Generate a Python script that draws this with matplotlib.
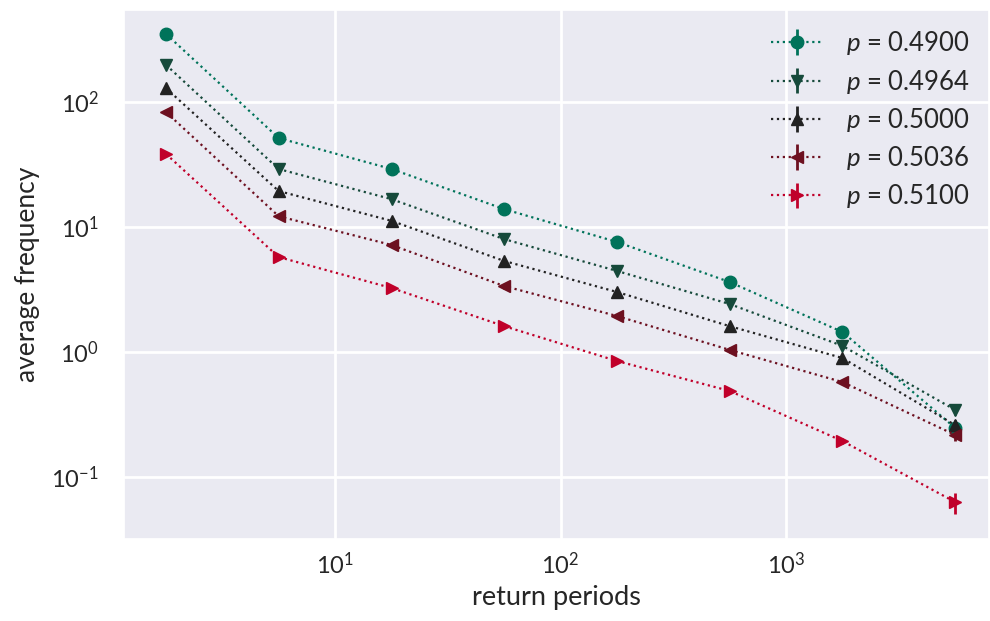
import numpy as np
import matplotlib
matplotlib.use("Agg")
import matplotlib.pyplot as plt
import seaborn as sns

sns.set_theme(style="darkgrid")
plt.rcParams['font.family'] = ['Lato', 'DejaVu Sans']
plt.rcParams['mathtext.fontset'] = 'custom'
plt.rcParams['mathtext.rm'] = 'Lato'
plt.rcParams['mathtext.it'] = 'Lato:italic'

return_periods = [1.78, 5.62, 17.8, 56.2, 178, 562, 1778, 5623]
labels = [r"$p$ = 0.4900", r"$p$ = 0.4964", r"$p$ = 0.5000", r"$p$ = 0.5036", r"$p$ = 0.5100"]
freq_04900 = [350, 51.5, 29.1, 13.9, 7.59, 3.63, 1.445, 0.247]
freq_04964 = [198, 29.1, 16.7, 8.0, 4.45, 2.42, 1.12, 0.344]
freq_05000 = [129, 19.4, 11.2, 5.35, 3.02, 1.61, 0.895, 0.26]
freq_05036 = [83, 12.2, 7.18, 3.37, 1.94, 1.04, 0.575, 0.217]
freq_05100 = [38.4, 5.75, 3.25, 1.61, 0.847, 0.488, 0.194, 0.063]
err_04900 = [3, 1.0, 0.6, 0.3, 0.15, 0.08, 0.04, 0.025]
err_04964 = [2.5, 0.8, 0.5, 0.25, 0.12, 0.07, 0.035, 0.03]
err_05000 = [2, 0.6, 0.4, 0.2, 0.1, 0.06, 0.03, 0.025]
err_05036 = [1.5, 0.5, 0.3, 0.15, 0.08, 0.05, 0.025, 0.022]
err_05100 = [1, 0.2, 0.12, 0.06, 0.03, 0.02, 0.012, 0.012]

series = [freq_04900, freq_04964, freq_05000, freq_05036, freq_05100]
errors = [err_04900, err_04964, err_05000, err_05036, err_05100]
colors = ["#00735a", "#164a3b", "#222222", "#6d1020", "#c0002a"]
markers = ["o", "v", "^", "<", ">"]

fig = plt.figure(figsize=(9.9, 6.21), dpi=100)
ax = fig.add_axes([124/990, 1-539/621, (989-124)/990, (539-10)/621])

for y, e, c, m, lab in zip(series, errors, colors, markers, labels):
    ax.errorbar(return_periods, y, yerr=e, color=c, marker=m, markersize=9,
                linestyle=':', linewidth=1.6, elinewidth=2, capsize=0, label=lab)

ax.set_xscale('log')
ax.set_yscale('log')
ax.set_xlim(10**0.064, 10**3.90)
ax.set_ylim(10**-1.496, 10**2.736)
ax.grid(True, which='major', color='white', linewidth=2)
ax.grid(False, which='minor')
ax.tick_params(axis='both', which='major', labelsize=17, length=0, labelcolor='#262626')
ax.tick_params(axis='x', which='major', pad=9)
ax.tick_params(axis='y', which='major', pad=18)
ax.tick_params(axis='both', which='minor', length=0)
ax.set_xlabel("return periods", fontsize=19.5, labelpad=5, color='#262626')
ax.set_ylabel("average frequency", fontsize=19, labelpad=8, color='#262626')

leg = ax.legend(loc='upper right', fontsize=18.5, frameon=False, handlelength=2.0,
                labelspacing=0.4, borderaxespad=0.35, handletextpad=0.9)
for t in leg.get_texts():
    t.set_color('#262626')

fig.savefig("out.png", dpi=100)
